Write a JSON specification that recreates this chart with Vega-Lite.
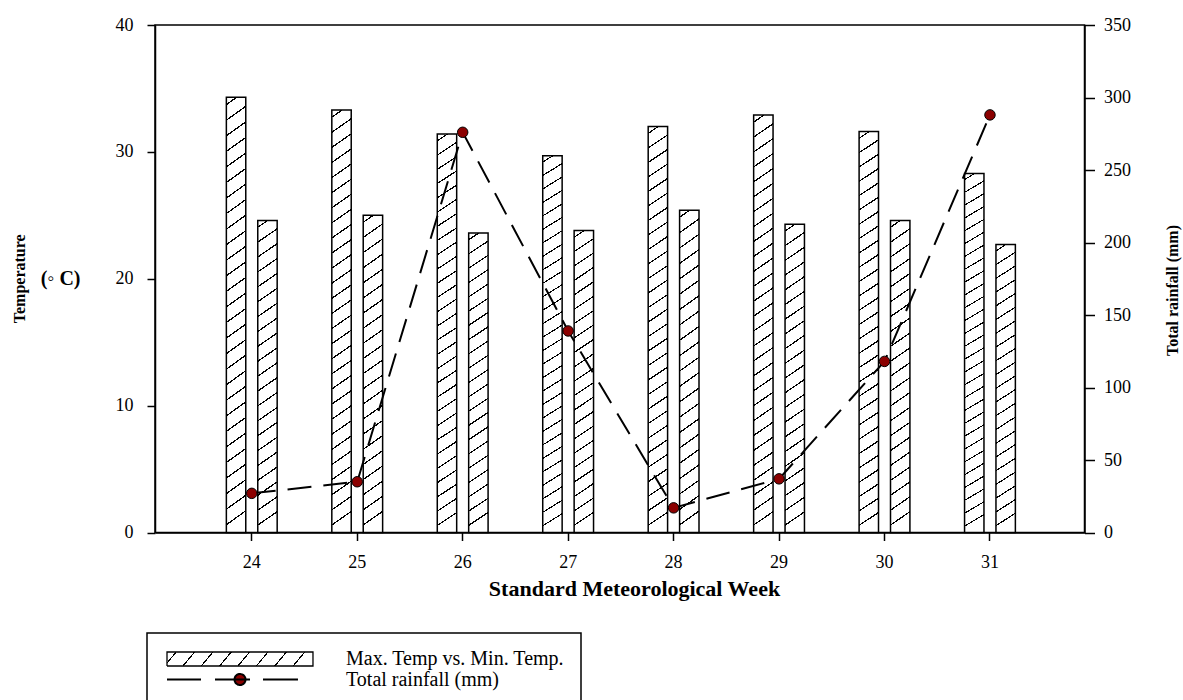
{
  "$schema": "https://vega.github.io/schema/vega-lite/v6.json",
  "width": 929.5,
  "height": 507.5,
  "autosize": "none",
  "padding": {"left": 155, "top": 25, "right": 98.5, "bottom": 167.5},
  "background": "white",
  "title": {"text": "Temperature", "orient": "left", "frame": "group", "anchor": "middle", "font": "Liberation Serif", "fontSize": 16, "fontWeight": "bold", "offset": 12, "color": "black"},
  "datasets": {
    "temps": [
      {"week": 24, "series": "Max", "temp": 34.3}, {"week": 24, "series": "Min", "temp": 24.6},
      {"week": 25, "series": "Max", "temp": 33.3}, {"week": 25, "series": "Min", "temp": 25.0},
      {"week": 26, "series": "Max", "temp": 31.4}, {"week": 26, "series": "Min", "temp": 23.6},
      {"week": 27, "series": "Max", "temp": 29.7}, {"week": 27, "series": "Min", "temp": 23.8},
      {"week": 28, "series": "Max", "temp": 32.0}, {"week": 28, "series": "Min", "temp": 25.4},
      {"week": 29, "series": "Max", "temp": 32.9}, {"week": 29, "series": "Min", "temp": 24.3},
      {"week": 30, "series": "Max", "temp": 31.6}, {"week": 30, "series": "Min", "temp": 24.6},
      {"week": 31, "series": "Max", "temp": 28.3}, {"week": 31, "series": "Min", "temp": 22.7}
    ],
    "rain": [
      {"week": 24, "rain": 27}, {"week": 25, "rain": 35}, {"week": 26, "rain": 276}, {"week": 27, "rain": 139},
      {"week": 28, "rain": 17}, {"week": 29, "rain": 37}, {"week": 30, "rain": 118}, {"week": 31, "rain": 288}
    ]
  },
  "encoding": {
    "x": {
      "field": "week", "type": "ordinal",
      "scale": {"paddingInner": 0, "paddingOuter": 0.407, "align": 0.513},
      "axis": {"title": "Standard Meteorological Week", "labelAngle": 0, "labelFontSize": 18, "labelPadding": 13, "tickSize": 8, "titleFontSize": 22, "titleFontWeight": "bold", "titlePadding": 7, "titleX": 479}
    }
  },
  "layer": [
    {
      "data": {"name": "temps"},
      "layer": [
        {
          "transform": [{"filter": "datum.series === 'Max'"}],
          "mark": {"type": "bar", "stroke": "black", "strokeWidth": 1.5, "fill": {"gradient": "linear", "x1": 0, "y1": 1, "x2": -0.032, "y2": 0, "stops": [
            {"offset": 0, "color": "#fff"},
            {"offset": 0.0161, "color": "#fff"}, {"offset": 0.0161, "color": "#000"}, {"offset": 0.0196, "color": "#000"}, {"offset": 0.0196, "color": "#fff"},
            {"offset": 0.0518, "color": "#fff"}, {"offset": 0.0518, "color": "#000"}, {"offset": 0.0554, "color": "#000"}, {"offset": 0.0554, "color": "#fff"},
            {"offset": 0.0875, "color": "#fff"}, {"offset": 0.0875, "color": "#000"}, {"offset": 0.0911, "color": "#000"}, {"offset": 0.0911, "color": "#fff"},
            {"offset": 0.1232, "color": "#fff"}, {"offset": 0.1232, "color": "#000"}, {"offset": 0.1268, "color": "#000"}, {"offset": 0.1268, "color": "#fff"},
            {"offset": 0.1589, "color": "#fff"}, {"offset": 0.1589, "color": "#000"}, {"offset": 0.1625, "color": "#000"}, {"offset": 0.1625, "color": "#fff"},
            {"offset": 0.1946, "color": "#fff"}, {"offset": 0.1946, "color": "#000"}, {"offset": 0.1982, "color": "#000"}, {"offset": 0.1982, "color": "#fff"},
            {"offset": 0.2304, "color": "#fff"}, {"offset": 0.2304, "color": "#000"}, {"offset": 0.2339, "color": "#000"}, {"offset": 0.2339, "color": "#fff"},
            {"offset": 0.2661, "color": "#fff"}, {"offset": 0.2661, "color": "#000"}, {"offset": 0.2696, "color": "#000"}, {"offset": 0.2696, "color": "#fff"},
            {"offset": 0.3018, "color": "#fff"}, {"offset": 0.3018, "color": "#000"}, {"offset": 0.3054, "color": "#000"}, {"offset": 0.3054, "color": "#fff"},
            {"offset": 0.3375, "color": "#fff"}, {"offset": 0.3375, "color": "#000"}, {"offset": 0.3411, "color": "#000"}, {"offset": 0.3411, "color": "#fff"},
            {"offset": 0.3732, "color": "#fff"}, {"offset": 0.3732, "color": "#000"}, {"offset": 0.3768, "color": "#000"}, {"offset": 0.3768, "color": "#fff"},
            {"offset": 0.4089, "color": "#fff"}, {"offset": 0.4089, "color": "#000"}, {"offset": 0.4125, "color": "#000"}, {"offset": 0.4125, "color": "#fff"},
            {"offset": 0.4446, "color": "#fff"}, {"offset": 0.4446, "color": "#000"}, {"offset": 0.4482, "color": "#000"}, {"offset": 0.4482, "color": "#fff"},
            {"offset": 0.4804, "color": "#fff"}, {"offset": 0.4804, "color": "#000"}, {"offset": 0.4839, "color": "#000"}, {"offset": 0.4839, "color": "#fff"},
            {"offset": 0.5161, "color": "#fff"}, {"offset": 0.5161, "color": "#000"}, {"offset": 0.5196, "color": "#000"}, {"offset": 0.5196, "color": "#fff"},
            {"offset": 0.5518, "color": "#fff"}, {"offset": 0.5518, "color": "#000"}, {"offset": 0.5554, "color": "#000"}, {"offset": 0.5554, "color": "#fff"},
            {"offset": 0.5875, "color": "#fff"}, {"offset": 0.5875, "color": "#000"}, {"offset": 0.5911, "color": "#000"}, {"offset": 0.5911, "color": "#fff"},
            {"offset": 0.6232, "color": "#fff"}, {"offset": 0.6232, "color": "#000"}, {"offset": 0.6268, "color": "#000"}, {"offset": 0.6268, "color": "#fff"},
            {"offset": 0.6589, "color": "#fff"}, {"offset": 0.6589, "color": "#000"}, {"offset": 0.6625, "color": "#000"}, {"offset": 0.6625, "color": "#fff"},
            {"offset": 0.6946, "color": "#fff"}, {"offset": 0.6946, "color": "#000"}, {"offset": 0.6982, "color": "#000"}, {"offset": 0.6982, "color": "#fff"},
            {"offset": 0.7304, "color": "#fff"}, {"offset": 0.7304, "color": "#000"}, {"offset": 0.7339, "color": "#000"}, {"offset": 0.7339, "color": "#fff"},
            {"offset": 0.7661, "color": "#fff"}, {"offset": 0.7661, "color": "#000"}, {"offset": 0.7696, "color": "#000"}, {"offset": 0.7696, "color": "#fff"},
            {"offset": 0.8018, "color": "#fff"}, {"offset": 0.8018, "color": "#000"}, {"offset": 0.8054, "color": "#000"}, {"offset": 0.8054, "color": "#fff"},
            {"offset": 0.8375, "color": "#fff"}, {"offset": 0.8375, "color": "#000"}, {"offset": 0.8411, "color": "#000"}, {"offset": 0.8411, "color": "#fff"},
            {"offset": 0.8732, "color": "#fff"}, {"offset": 0.8732, "color": "#000"}, {"offset": 0.8768, "color": "#000"}, {"offset": 0.8768, "color": "#fff"},
            {"offset": 0.9089, "color": "#fff"}, {"offset": 0.9089, "color": "#000"}, {"offset": 0.9125, "color": "#000"}, {"offset": 0.9125, "color": "#fff"},
            {"offset": 0.9446, "color": "#fff"}, {"offset": 0.9446, "color": "#000"}, {"offset": 0.9482, "color": "#000"}, {"offset": 0.9482, "color": "#fff"},
            {"offset": 0.9804, "color": "#fff"}, {"offset": 0.9804, "color": "#000"}, {"offset": 0.9839, "color": "#000"}, {"offset": 0.9839, "color": "#fff"},
            {"offset": 1, "color": "#fff"}
          ]}},
          "encoding": {
            "xOffset": {"field": "series", "type": "nominal", "scale": {"domain": ["Max", "Min"], "paddingInner": 0.382, "paddingOuter": 0.87}},
            "y": {"field": "temp", "type": "quantitative", "scale": {"domain": [0, 40]},
              "axis": {"orient": "left", "values": [0, 10, 20, 30, 40], "title": "(◦ C)", "titleAngle": 0, "titleAlign": "right", "titleBaseline": "middle", "titleFontSize": 20, "titleFontWeight": "bold", "titlePadding": 35, "labelFontSize": 18, "labelPadding": 14, "tickSize": 8}},
            "stroke": {"datum": "Max. Temp vs. Min. Temp.", "type": "nominal",
              "scale": {"domain": ["Max. Temp vs. Min. Temp.", "Total rainfall (mm)"], "range": ["black", "black"]},
              "legend": {
                "title": null, "orient": "none", "legendX": -8, "legendY": 608, "direction": "vertical",
                "padding": 16, "strokeColor": "black", "fillColor": "white",
                "symbolSize": 144, "symbolStrokeWidth": 1.5, "labelOffset": 163,
                "labelFont": "Liberation Serif", "labelFontSize": 20, "labelColor": "black", "labelLimit": 400, "rowPadding": 0.5,
                "encoding": {
                  "legend": {"strokeWidth": {"value": 1.5}},
                  "symbols": {
                    "shape": {"value": {"expr": "datum.value === 'Total rainfall (mm)' ? 'M-1,0H4.67M7,0H12.83M15,0H20.83M12.09,0A0.92,0.92,0,1,1,10.25,0A0.92,0.92,0,1,1,12.09,0Z' : 'M-1,-1.17H23.33V1.17H-1Z'"}},
                    "fill": {"value": {"expr": "datum.value === 'Total rainfall (mm)' ? '#8B0000' : {gradient: 'linear', x1: 0, y1: 0, x2: 1, y2: 0.08, stops: [{offset: 0, color: '#fff'}, {offset: 0.0575, color: '#fff'}, {offset: 0.0575, color: '#000'}, {offset: 0.0675, color: '#000'}, {offset: 0.0675, color: '#fff'}, {offset: 0.1825, color: '#fff'}, {offset: 0.1825, color: '#000'}, {offset: 0.1925, color: '#000'}, {offset: 0.1925, color: '#fff'}, {offset: 0.3075, color: '#fff'}, {offset: 0.3075, color: '#000'}, {offset: 0.3175, color: '#000'}, {offset: 0.3175, color: '#fff'}, {offset: 0.4325, color: '#fff'}, {offset: 0.4325, color: '#000'}, {offset: 0.4425, color: '#000'}, {offset: 0.4425, color: '#fff'}, {offset: 0.5575, color: '#fff'}, {offset: 0.5575, color: '#000'}, {offset: 0.5675, color: '#000'}, {offset: 0.5675, color: '#fff'}, {offset: 0.6825, color: '#fff'}, {offset: 0.6825, color: '#000'}, {offset: 0.6925, color: '#000'}, {offset: 0.6925, color: '#fff'}, {offset: 0.8075, color: '#fff'}, {offset: 0.8075, color: '#000'}, {offset: 0.8175, color: '#000'}, {offset: 0.8175, color: '#fff'}, {offset: 0.9325, color: '#fff'}, {offset: 0.9325, color: '#000'}, {offset: 0.9425, color: '#000'}, {offset: 0.9425, color: '#fff'}, {offset: 1, color: '#fff'}]}"}},
                    "fillOpacity": {"value": 1},
                    "stroke": {"value": "black"},
                    "strokeWidth": {"value": {"expr": "datum.value === 'Total rainfall (mm)' ? 2 : 1.3"}},
                    "strokeDash": {"value": [1, 0]},
                    "size": {"value": 144},
                    "opacity": {"value": 1}
                  }
                }
              }
            }
          }
        },
        {
          "transform": [{"filter": "datum.series === 'Min'"}],
          "mark": {"type": "bar", "stroke": "black", "strokeWidth": 1.5, "fill": {"gradient": "linear", "x1": 0, "y1": 1, "x2": -0.043, "y2": 0, "stops": [
            {"offset": 0, "color": "#fff"},
            {"offset": 0.0214, "color": "#fff"}, {"offset": 0.0214, "color": "#000"}, {"offset": 0.0262, "color": "#000"}, {"offset": 0.0262, "color": "#fff"},
            {"offset": 0.0690, "color": "#fff"}, {"offset": 0.0690, "color": "#000"}, {"offset": 0.0738, "color": "#000"}, {"offset": 0.0738, "color": "#fff"},
            {"offset": 0.1167, "color": "#fff"}, {"offset": 0.1167, "color": "#000"}, {"offset": 0.1214, "color": "#000"}, {"offset": 0.1214, "color": "#fff"},
            {"offset": 0.1643, "color": "#fff"}, {"offset": 0.1643, "color": "#000"}, {"offset": 0.1690, "color": "#000"}, {"offset": 0.1690, "color": "#fff"},
            {"offset": 0.2119, "color": "#fff"}, {"offset": 0.2119, "color": "#000"}, {"offset": 0.2167, "color": "#000"}, {"offset": 0.2167, "color": "#fff"},
            {"offset": 0.2595, "color": "#fff"}, {"offset": 0.2595, "color": "#000"}, {"offset": 0.2643, "color": "#000"}, {"offset": 0.2643, "color": "#fff"},
            {"offset": 0.3071, "color": "#fff"}, {"offset": 0.3071, "color": "#000"}, {"offset": 0.3119, "color": "#000"}, {"offset": 0.3119, "color": "#fff"},
            {"offset": 0.3548, "color": "#fff"}, {"offset": 0.3548, "color": "#000"}, {"offset": 0.3595, "color": "#000"}, {"offset": 0.3595, "color": "#fff"},
            {"offset": 0.4024, "color": "#fff"}, {"offset": 0.4024, "color": "#000"}, {"offset": 0.4071, "color": "#000"}, {"offset": 0.4071, "color": "#fff"},
            {"offset": 0.4500, "color": "#fff"}, {"offset": 0.4500, "color": "#000"}, {"offset": 0.4548, "color": "#000"}, {"offset": 0.4548, "color": "#fff"},
            {"offset": 0.4976, "color": "#fff"}, {"offset": 0.4976, "color": "#000"}, {"offset": 0.5024, "color": "#000"}, {"offset": 0.5024, "color": "#fff"},
            {"offset": 0.5452, "color": "#fff"}, {"offset": 0.5452, "color": "#000"}, {"offset": 0.5500, "color": "#000"}, {"offset": 0.5500, "color": "#fff"},
            {"offset": 0.5929, "color": "#fff"}, {"offset": 0.5929, "color": "#000"}, {"offset": 0.5976, "color": "#000"}, {"offset": 0.5976, "color": "#fff"},
            {"offset": 0.6405, "color": "#fff"}, {"offset": 0.6405, "color": "#000"}, {"offset": 0.6452, "color": "#000"}, {"offset": 0.6452, "color": "#fff"},
            {"offset": 0.6881, "color": "#fff"}, {"offset": 0.6881, "color": "#000"}, {"offset": 0.6929, "color": "#000"}, {"offset": 0.6929, "color": "#fff"},
            {"offset": 0.7357, "color": "#fff"}, {"offset": 0.7357, "color": "#000"}, {"offset": 0.7405, "color": "#000"}, {"offset": 0.7405, "color": "#fff"},
            {"offset": 0.7833, "color": "#fff"}, {"offset": 0.7833, "color": "#000"}, {"offset": 0.7881, "color": "#000"}, {"offset": 0.7881, "color": "#fff"},
            {"offset": 0.8310, "color": "#fff"}, {"offset": 0.8310, "color": "#000"}, {"offset": 0.8357, "color": "#000"}, {"offset": 0.8357, "color": "#fff"},
            {"offset": 0.8786, "color": "#fff"}, {"offset": 0.8786, "color": "#000"}, {"offset": 0.8833, "color": "#000"}, {"offset": 0.8833, "color": "#fff"},
            {"offset": 0.9262, "color": "#fff"}, {"offset": 0.9262, "color": "#000"}, {"offset": 0.9310, "color": "#000"}, {"offset": 0.9310, "color": "#fff"},
            {"offset": 0.9738, "color": "#fff"}, {"offset": 0.9738, "color": "#000"}, {"offset": 0.9786, "color": "#000"}, {"offset": 0.9786, "color": "#fff"},
            {"offset": 1, "color": "#fff"}
          ]}},
          "encoding": {
            "xOffset": {"field": "series", "type": "nominal", "scale": {"domain": ["Max", "Min"], "paddingInner": 0.382, "paddingOuter": 0.87}},
            "y": {"field": "temp", "type": "quantitative", "scale": {"domain": [0, 40]}},
            "stroke": {"datum": "Max. Temp vs. Min. Temp.", "type": "nominal", "legend": null}
          }
        }
      ]
    },
    {
      "data": {"name": "rain"},
      "layer": [
        {
          "mark": {"type": "line", "stroke": "black", "strokeWidth": 2, "strokeDash": [24, 12]},
          "encoding": {
            "y": {"field": "rain", "type": "quantitative", "scale": {"domain": [0, 350]},
              "axis": {"orient": "right", "values": [0, 50, 100, 150, 200, 250, 300, 350], "title": "Total rainfall (mm)", "titleAngle": 270, "titleBaseline": "top", "titleFontSize": 16, "titleFontWeight": "bold", "titlePadding": 34, "titleY": 265, "labelFontSize": 18, "labelPadding": 9, "tickSize": 10}},
            "stroke": {"datum": "Total rainfall (mm)", "type": "nominal", "legend": null}
          }
        },
        {
          "mark": {"type": "point", "filled": true, "fill": "#8B0000", "stroke": "black", "strokeWidth": 1, "size": 110, "opacity": 1},
          "encoding": {
            "y": {"field": "rain", "type": "quantitative"},
            "stroke": {"datum": "Total rainfall (mm)", "type": "nominal", "legend": null}
          }
        }
      ]
    }
  ],
  "resolve": {"scale": {"y": "independent"}},
  "config": {
    "font": "Liberation Serif",
    "view": {"stroke": "black", "strokeWidth": 1.5},
    "axis": {"grid": false, "domainColor": "black", "domainWidth": 1.5, "tickColor": "black", "tickWidth": 1.5, "labelColor": "black", "titleColor": "black", "labelFont": "Liberation Serif", "titleFont": "Liberation Serif"}
  }
}
